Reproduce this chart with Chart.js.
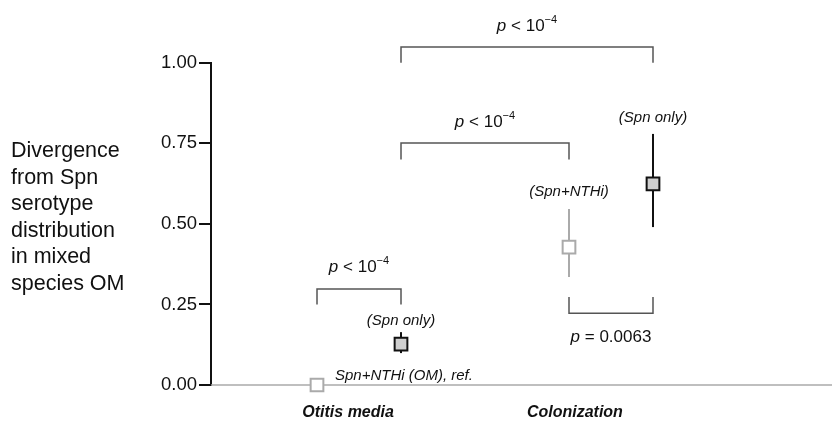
<!DOCTYPE html>
<html>
<head>
<meta charset="utf-8">
<script src="https://cdn.jsdelivr.net/npm/chart.js@4.4.1/dist/chart.umd.min.js"></script>
<style>
  html, body { margin: 0; padding: 0; background: #fff; }
  #wrap { width: 834px; height: 422px; position: relative; }
</style>
</head>
<body>
<div id="wrap"><canvas id="c" width="834" height="422"></canvas></div>
<script>
// ---- Data ----
const categories = ['Otitis media', 'Colonization'];
const groupCategory = [0, 0, 1, 1];
const groupSeries = ['Spn+NTHi', 'Spn only', 'Spn+NTHi', 'Spn only'];
const groupLabels = ['Spn+NTHi (OM), ref.', '(Spn only)', '(Spn+NTHi)', '(Spn only)'];
const means = [0, 0.127, 0.428, 0.624];
const lower = [0, 0.099, 0.335, 0.490];
const upper = [0, 0.164, 0.546, 0.779];
const yTicks = [0, 0.25, 0.5, 0.75, 1.0];
const yTitleLines = ['Divergence', 'from Spn', 'serotype', 'distribution', 'in mixed', 'species OM'];
// comparisons: between groups a and b, p-value text
const compA = [0, 1, 1, 2];
const compB = [1, 2, 3, 3];
const compP = ['< 10', '< 10', '< 10', '= 0.0063'];
const compExp = ['−4', '−4', '−4', ''];

// ---- Layout helpers (not data) ----
const seriesOffset = { 'Spn+NTHi': 0, 'Spn only': 1 };
const xOf = i => groupCategory[i] * 3 + seriesOffset[groupSeries[i]];
const catLabelX = [0.37, 3.07];
const bracketGeom = [
  { bar: 0.298, leg: 0.25, text: 0.35 },
  { bar: 0.751, leg: 0.70, text: 0.802 },
  { bar: 1.049, leg: 1.0, text: 1.098 },
  { bar: 0.223, leg: 0.273, text: 0.133 }
];
const groupLabelGeom = [
  { dx: 18, y: 0.015, align: 'left' },
  { dx: 0, y: 0.185, align: 'center' },
  { dx: 0, y: 0.587, align: 'center' },
  { dx: 0, y: 0.816, align: 'center' }
];

const FONT = '"Liberation Sans", Arial, Helvetica, sans-serif';
const isFilled = i => groupSeries[i] === 'Spn only';

const points = means.map((m, i) => ({ x: xOf(i), y: m }));

function drawPText(ctx, main, exp, cx, baseline) {
  const fs = 17;
  ctx.save();
  ctx.fillStyle = '#111';
  ctx.textBaseline = 'alphabetic';
  ctx.textAlign = 'left';
  ctx.font = 'italic ' + fs + 'px ' + FONT;
  const wp = ctx.measureText('p').width;
  ctx.font = fs + 'px ' + FONT;
  const wm = ctx.measureText(' ' + main).width;
  ctx.font = '11px ' + FONT;
  const we = exp ? ctx.measureText(exp).width : 0;
  let x = cx - (wp + wm + we) / 2;
  ctx.font = 'italic ' + fs + 'px ' + FONT;
  ctx.fillText('p', x, baseline); x += wp;
  ctx.font = fs + 'px ' + FONT;
  ctx.fillText(' ' + main, x, baseline); x += wm;
  if (exp) {
    ctx.font = '11px ' + FONT;
    ctx.fillText(exp, x, baseline - 8);
  }
  ctx.restore();
}

const annot = {
  id: 'annot',
  beforeDatasetsDraw(chart) {
    const { ctx, scales: { x, y }, chartArea } = chart;
    ctx.save();
    ctx.strokeStyle = '#aaa';
    ctx.lineWidth = 1.5;
    ctx.beginPath();
    ctx.moveTo(chartArea.left, y.getPixelForValue(0));
    ctx.lineTo(chartArea.right, y.getPixelForValue(0));
    ctx.stroke();
    means.forEach((m, i) => {
      if (upper[i] === lower[i]) return;
      ctx.strokeStyle = isFilled(i) ? '#111' : '#aaa';
      ctx.lineWidth = 2;
      const px = x.getPixelForValue(xOf(i));
      ctx.beginPath();
      ctx.moveTo(px, y.getPixelForValue(lower[i]));
      ctx.lineTo(px, y.getPixelForValue(upper[i]));
      ctx.stroke();
    });
    ctx.restore();
  },
  afterDatasetsDraw(chart) {
    const { ctx, scales: { x, y } } = chart;
    ctx.save();
    compA.forEach((a, k) => {
      const g = bracketGeom[k];
      const xa = x.getPixelForValue(xOf(a));
      const xb = x.getPixelForValue(xOf(compB[k]));
      const yb = y.getPixelForValue(g.bar);
      const yl = y.getPixelForValue(g.leg);
      ctx.strokeStyle = '#555';
      ctx.lineWidth = 1.5;
      ctx.beginPath();
      ctx.moveTo(xa, yl); ctx.lineTo(xa, yb); ctx.lineTo(xb, yb); ctx.lineTo(xb, yl);
      ctx.stroke();
      drawPText(ctx, compP[k], compExp[k], (xa + xb) / 2, y.getPixelForValue(g.text));
    });
    ctx.fillStyle = '#111';
    ctx.font = 'italic 15px ' + FONT;
    ctx.textBaseline = 'alphabetic';
    groupLabels.forEach((t, i) => {
      const g = groupLabelGeom[i];
      ctx.textAlign = g.align;
      ctx.fillText(t, x.getPixelForValue(xOf(i)) + g.dx, y.getPixelForValue(g.y));
    });
    ctx.font = 'italic bold 16px ' + FONT;
    ctx.textAlign = 'center';
    categories.forEach((c, k) => {
      ctx.fillText(c, x.getPixelForValue(catLabelX[k]), 417);
    });
    ctx.font = '21.5px ' + FONT;
    ctx.textAlign = 'left';
    yTitleLines.forEach((t, k) => {
      ctx.fillText(t, 11, 157 + k * 26.5);
    });
    ctx.restore();
  }
};

new Chart(document.getElementById('c'), {
  type: 'scatter',
  data: {
    datasets: [{
      data: points,
      clip: false,
      pointStyle: 'rect',
      pointRadius: 9,
      pointHoverRadius: 9,
      pointBorderWidth: 2,
      pointBackgroundColor: means.map((m, i) => isFilled(i) ? '#cfcfcf' : '#ffffff'),
      pointBorderColor: means.map((m, i) => isFilled(i) ? '#111' : '#aaa'),
      showLine: false
    }]
  },
  options: {
    responsive: false,
    animation: false,
    events: [],
    layout: { autoPadding: false, padding: { left: 0, right: 2, top: 62.7, bottom: 37 } },
    plugins: { legend: { display: false }, tooltip: { enabled: false } },
    scales: {
      x: {
        type: 'linear',
        display: false,
        min: -1.262,
        max: 6.131
      },
      y: {
        min: 0,
        max: 1,
        afterFit(scale) { scale.width = 211; },
        afterBuildTicks(scale) { scale.ticks = yTicks.map(v => ({ value: v })); },
        border: { display: true, color: '#111', width: 2 },
        grid: { drawOnChartArea: false, drawTicks: true, tickLength: 12, color: '#111', lineWidth: 2 },
        ticks: {
          padding: 2,
          color: '#111',
          font: { family: FONT, size: 18.5 },
          callback: v => v.toFixed(2)
        }
      }
    }
  },
  plugins: [annot]
});
</script>
</body>
</html>
